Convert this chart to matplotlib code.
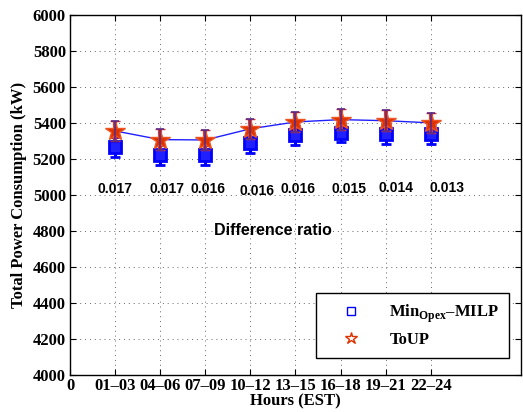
import matplotlib
matplotlib.use("Agg")
import matplotlib.pyplot as plt
from matplotlib.lines import Line2D

plt.rcParams['mathtext.fontset'] = 'custom'
plt.rcParams['mathtext.rm'] = 'Liberation Serif:bold'
plt.rcParams['mathtext.bf'] = 'Liberation Serif:bold'

categories = ['0', '01–03', '04–06', '07–09', '10–12', '13–15', '16–18', '19–21', '22–24']
x_pos = [1, 2, 3, 4, 5, 6, 7, 8]
milp = [5268, 5222, 5222, 5287, 5330, 5346, 5337, 5337]
milp_err = [55, 55, 55, 55, 55, 55, 55, 55]
toup = [5355, 5307, 5305, 5367, 5405, 5418, 5412, 5400]
toup_err = [57, 57, 57, 57, 57, 57, 57, 57]
ratio_labels = ['0.017', '0.017', '0.016', '0.016', '0.016', '0.015', '0.014', '0.013']
ratio_x = [1.0, 2.15, 3.07, 4.15, 5.05, 6.18, 7.22, 8.37]
ratio_y = [5030, 5030, 5035, 5022, 5030, 5030, 5038, 5038]

fig = plt.figure(figsize=(5.23, 4.12), dpi=100)
ax = fig.add_axes([0.134, 0.090, 0.862, 0.874])

serif = 'Liberation Serif'
sans = 'Liberation Sans'

ax.errorbar(x_pos, milp, yerr=milp_err, fmt='s', color='#0000ff', mfc='#2020ff',
            mec='#0000ff', ms=8, mew=2, ecolor='#0000ff', elinewidth=2.2, capsize=3.5,
            capthick=2.2, zorder=3)
ax.plot(x_pos, toup, '-', color='#2020ff', lw=1, zorder=4)
ax.errorbar(x_pos, toup, yerr=toup_err, fmt='*', color='#dd3300', mfc='#dd3300',
            mec='#ee5522', ms=15, mew=1, ecolor='#dd3322', elinewidth=3, capsize=3.5,
            capthick=3, zorder=5)
ax.errorbar(x_pos, toup, yerr=toup_err, fmt='none', ecolor='#5a2a8a', elinewidth=1.2,
            capsize=3, capthick=1.2, zorder=6)

for t, xx, yy in zip(ratio_labels, ratio_x, ratio_y):
    ax.text(xx, yy, t, ha='center', va='center', fontsize=10, fontweight='bold',
            family=sans, color='black')
ax.text(4.5, 4800, 'Difference ratio', ha='center', va='center', fontsize=11.5,
        fontweight='bold', family=sans)

ax.set_xlim(0, 10)
ax.set_ylim(4000, 6000)
ax.set_xticks(range(0, 9))
ax.set_xticklabels(categories)
ax.set_yticks(range(4000, 6001, 200))
for lab in ax.get_xticklabels() + ax.get_yticklabels():
    lab.set_fontfamily(serif)
    lab.set_fontweight('bold')
    lab.set_fontsize(12)
ax.tick_params(direction='in', top=True, right=True, length=4, width=0.8)
ax.tick_params(axis='x', pad=2)
ax.tick_params(axis='y', pad=3)
ax.grid(True, linestyle=(0, (1, 4)), color='#666666', linewidth=0.7)
ax.set_axisbelow(True)
for s in ax.spines.values():
    s.set_linewidth(1.0)

ax.set_xlabel('Hours (EST)', fontsize=12, fontweight='bold', family=serif, labelpad=0)
ax.set_ylabel('Total Power Consumption (kW)', fontsize=12, fontweight='bold', family=serif,
              labelpad=4)

handles = [
    Line2D([], [], ls='none', marker='s', mfc='none', mec='#0000ff', ms=6, mew=1),
    Line2D([], [], ls='none', marker='*', mfc='none', mec='#dd3300', ms=9, mew=1),
]
leg = ax.legend(handles, ['Min$_{\\mathrm{Opex}}$–MILP', 'ToUP'], loc='lower right',
                prop={'family': serif, 'weight': 'bold', 'size': 12},
                fancybox=False, edgecolor='black', framealpha=1,
                handlelength=3, borderpad=0.6, labelspacing=0.4,
                bbox_to_anchor=(0.993, 0.025))
leg.get_frame().set_linewidth(1.0)

fig.savefig('out.png', dpi=100)
